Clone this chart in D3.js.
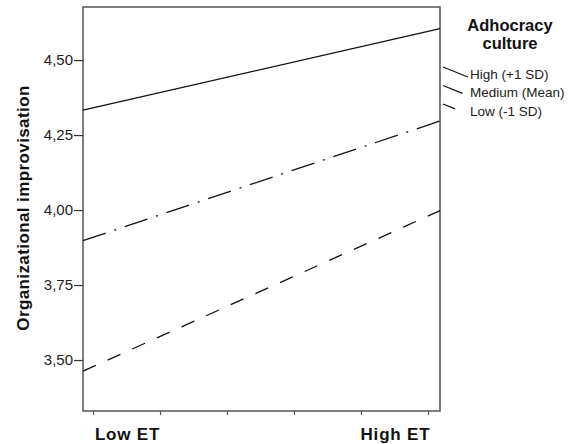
<!DOCTYPE html>
<html>
<head>
<meta charset="utf-8">
<script src="https://cdn.jsdelivr.net/npm/d3@7"></script>
<style>
  body { margin: 0; background: #fff; }
  svg { display: block; font-family: "Liberation Sans", Arial, sans-serif; }
</style>
</head>
<body>
<div id="root"></div>
<script>
const width = 576;
const height = 444;

// data
const groups = ["Low ET", "High ET"];
const seriesNames = ["High (+1 SD)", "Medium (Mean)", "Low (-1 SD)"];
const highValues = [4.333, 4.605];
const mediumValues = [3.898, 4.297];
const lowValues = [3.463, 3.998];
const yTicks = [3.5, 3.75, 4.0, 4.25, 4.5];
const dashes = [null, "24,9,2,9", "14,13"];

const series = [highValues, mediumValues, lowValues];

const plot = { left: 83, right: 440, top: 7, bottom: 411 };

const svg = d3
  .select("#root")
  .append("svg")
  .attr("width", width)
  .attr("height", height);

const y = d3
  .scaleLinear()
  .domain([3.33, 4.677])
  .range([plot.bottom, plot.top]);

// x in "tick units": 6 ticks, categories sit at the ends of the frame
const x = d3
  .scaleLinear()
  .domain([-0.15, 5.18])
  .range([plot.left, plot.right]);

const fmt = (d) => d3.format(".2f")(d).replace(".", ",");

// frame
svg
  .append("rect")
  .attr("x", plot.left)
  .attr("y", plot.top)
  .attr("width", plot.right - plot.left)
  .attr("height", plot.bottom - plot.top)
  .attr("fill", "none")
  .attr("stroke", "#555")
  .attr("stroke-width", 1.5);

// y axis
const yAxis = svg
  .append("g")
  .attr("transform", `translate(${plot.left},0)`)
  .call(d3.axisLeft(y).tickValues(yTicks).tickFormat(fmt).tickSize(9).tickPadding(1));
yAxis.select(".domain").remove();
yAxis.selectAll("line").attr("stroke", "#333").attr("stroke-width", 1.2);
yAxis
  .selectAll("text")
  .style("font-size", "15px")
  .style("font-family", "Liberation Sans, Arial, sans-serif")
  .attr("fill", "#222");

// x axis ticks (no labels)
const xAxis = svg
  .append("g")
  .attr("transform", `translate(0,${plot.bottom})`)
  .call(d3.axisBottom(x).tickValues(d3.range(6)).tickFormat("").tickSize(4));
xAxis.select(".domain").remove();
xAxis.selectAll("line").attr("stroke", "#555").attr("stroke-width", 1.2);

// category labels between ticks
svg
  .append("g")
  .selectAll("text")
  .data(groups)
  .join("text")
  .attr("x", (d, i) => x(i === 0 ? 0.5 : 4.5) + 1)
  .attr("y", 440)
  .attr("text-anchor", "middle")
  .style("font-size", "17px")
  .style("letter-spacing", "0.8px")
  .attr("font-weight", "bold")
  .attr("fill", "#111")
  .text((d) => d);

// y title
svg
  .append("text")
  .attr("transform", `translate(29,208) rotate(-90)`)
  .attr("text-anchor", "middle")
  .style("font-size", "17px")
  .style("letter-spacing", "0.4px")
  .attr("font-weight", "bold")
  .attr("fill", "#111")
  .text("Organizational improvisation");

// lines
const line = d3
  .line()
  .x((d, i) => (i === 0 ? plot.left : plot.right))
  .y((d) => y(d));

svg
  .append("g")
  .selectAll("path")
  .data(series)
  .join("path")
  .attr("d", line)
  .attr("fill", "none")
  .attr("stroke", "#111")
  .attr("stroke-width", 1.3)
  .attr("stroke-dasharray", (d, i) => dashes[i]);

// legend
const legend = svg.append("g");
legend
  .selectAll(".title")
  .data(["Adhocracy", "culture"])
  .join("text")
  .attr("class", "title")
  .attr("x", 510)
  .attr("y", (d, i) => 31 + i * 18)
  .attr("text-anchor", "middle")
  .style("font-size", "16.5px")
  .attr("font-weight", "bold")
  .attr("fill", "#111")
  .text((d) => d);

const item = legend
  .selectAll(".item")
  .data(seriesNames)
  .join("g")
  .attr("class", "item")
  .attr("transform", (d, i) => `translate(0,${i * 18.5})`);

item
  .append("line")
  .attr("x1", 443)
  .attr("y1", 67)
  .attr("x2", 468)
  .attr("y2", 77)
  .attr("stroke", "#111")
  .attr("stroke-width", 1.3)
  .attr("stroke-dasharray", (d, i) => (i === 0 ? null : i === 1 ? "21,40" : "13,40"));

item
  .append("text")
  .attr("x", 470)
  .attr("y", 78.5)
  .style("font-size", "13.5px")
  .attr("fill", "#222")
  .text((d) => d);
</script>
</body>
</html>
